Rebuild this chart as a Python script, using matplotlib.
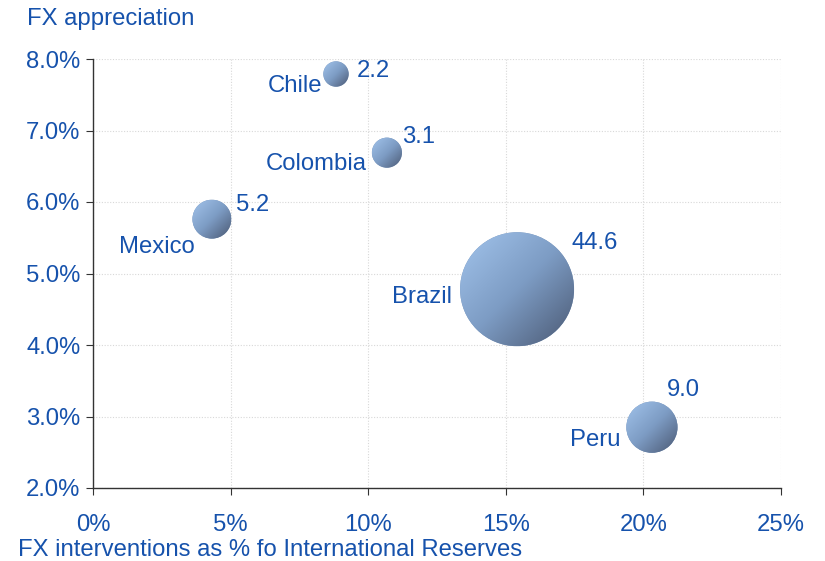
import numpy as np
import matplotlib.pyplot as plt
from matplotlib.patches import Circle
from matplotlib.transforms import IdentityTransform
from matplotlib.colors import LinearSegmentedColormap
from matplotlib.ticker import FuncFormatter

countries = ["Chile", "Colombia", "Mexico", "Brazil", "Peru"]
fx_interventions = [8.83, 10.68, 4.32, 15.41, 20.31]   # % of reserves
fx_appreciation = [7.79, 6.69, 5.76, 4.78, 2.85]       # %
bubble_size = [2.2, 3.1, 5.2, 44.6, 9.0]

# label offsets in pixels (value label, name label)
value_off = [(21, 3), (15, 16), (24, 14), (54, 46), (15, 37)]
name_off = [(-14, -12), (-20, -11), (-17, -28), (-65, -8), (-31, -13)]

blue = "#1652ac"
fs = 17.2
plt.rcParams["font.family"] = ["Liberation Sans", "DejaVu Sans"]

fig = plt.figure(figsize=(8.25, 5.61), dpi=100)
ax = fig.add_axes([93 / 825, 1 - 488 / 561, (781 - 93) / 825, (488 - 59) / 561])

ax.set_xlim(0, 25)
ax.set_ylim(2, 8)
ax.set_xticks(np.arange(0, 26, 5))
ax.set_yticks(np.arange(2, 8.1, 1))
ax.xaxis.set_major_formatter(FuncFormatter(lambda v, p: f"{v:.0f}%"))
ax.yaxis.set_major_formatter(FuncFormatter(lambda v, p: f"{v:.1f}%"))
ax.grid(True, color="#d8d8d8", linestyle=(0, (1, 1.5)), linewidth=0.8)
ax.set_axisbelow(True)
for s in ["top", "right"]:
    ax.spines[s].set_visible(False)
for s in ["left", "bottom"]:
    ax.spines[s].set_color("#333333")
    ax.spines[s].set_linewidth(1.0)
ax.tick_params(colors="#333333", labelcolor=blue, labelsize=fs, length=5, direction="out")
ax.tick_params(axis="x", pad=14)
ax.tick_params(axis="y", pad=4)

# bubbles: area proportional to size
scale = 151.0
sizes = np.array(bubble_size) * scale
sc = ax.scatter(fx_interventions, fx_appreciation, s=sizes, color="#7895bb",
                edgecolors="none", zorder=3)

# gradient fill clipped to each bubble
cmap = LinearSegmentedColormap.from_list("bub", ["#a2c4ec", "#7d9cc4", "#4a5872"])
gy, gx = np.mgrid[0:1:200j, 0:1:200j]
grad = (gx + gy) / 2.0
fig.canvas.draw()
for x, y, sz in zip(fx_interventions, fx_appreciation, sizes):
    cx, cy = ax.transData.transform((x, y))
    r = np.sqrt(sz) / 2 * fig.dpi / 72
    (x0, y0) = ax.transData.inverted().transform((cx - r, cy + r))
    (x1, y1) = ax.transData.inverted().transform((cx + r, cy - r))
    im = ax.imshow(grad, cmap=cmap, extent=(x0, x1, y1, y0), origin="upper",
                   aspect="auto", zorder=4, interpolation="bilinear")
    clip = Circle((cx, cy), r, transform=IdentityTransform())
    im.set_clip_path(clip)
ax.set_xlim(0, 25)
ax.set_ylim(2, 8)

for x, y, v, name, vo, no in zip(fx_interventions, fx_appreciation, bubble_size,
                                 countries, value_off, name_off):
    ax.annotate(f"{v:.1f}", (x, y), xytext=(vo[0] * 0.72, vo[1] * 0.72),
                textcoords="offset points", ha="left", va="center",
                color=blue, fontsize=fs, zorder=5)
    ax.annotate(name, (x, y), xytext=(no[0] * 0.72, no[1] * 0.72),
                textcoords="offset points", ha="right", va="center",
                color=blue, fontsize=fs, zorder=5)

fig.text(27 / 825, 1 - 19 / 561, "FX appreciation", color=blue, fontsize=fs,
         ha="left", va="center")
fig.text(18 / 825, 1 - 550 / 561, "FX interventions as % fo International Reserves",
         color=blue, fontsize=fs, ha="left", va="center")

fig.savefig("out.png", dpi=100)
